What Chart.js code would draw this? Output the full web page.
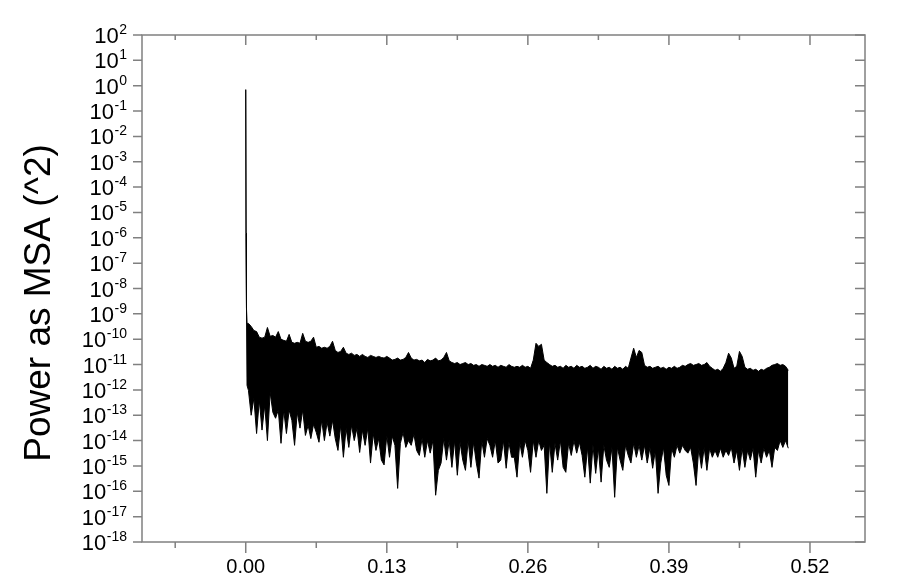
<!DOCTYPE html>
<html>
<head>
<meta charset="utf-8">
<script src="https://cdn.jsdelivr.net/npm/chart.js@4/dist/chart.umd.min.js"></script>
<style>
html,body{margin:0;padding:0;background:#fff;}
canvas{display:block;}
</style>
</head>
<body>
<canvas id="c" width="900" height="581"></canvas>
<script>
// ---- data ----
const freq = [0,0.0003,0.0007,0.0012,
0.0025,0.005,0.0075,0.01,0.0125,0.015,0.0175,0.02,0.0225,0.025,0.0275,0.03,0.0325,0.035,0.0375,0.04,0.0425,0.045,0.0475,0.05,
0.0525,0.055,0.0575,0.06,0.0625,0.065,0.0675,0.07,0.0725,0.075,0.0775,0.08,0.0825,0.085,0.0875,0.09,0.0925,0.095,0.0975,0.1,
0.1025,0.105,0.1075,0.11,0.1125,0.115,0.1175,0.12,0.1225,0.125,0.1275,0.13,0.1325,0.135,0.1375,0.14,0.1425,0.145,0.1475,0.15,
0.1525,0.155,0.1575,0.16,0.1625,0.165,0.1675,0.17,0.1725,0.175,0.1775,0.18,0.1825,0.185,0.1875,0.19,0.1925,0.195,0.1975,0.2,
0.2025,0.205,0.2075,0.21,0.2125,0.215,0.2175,0.22,0.2225,0.225,0.2275,0.23,0.2325,0.235,0.2375,0.24,0.2425,0.245,0.2475,0.25,
0.2525,0.255,0.2575,0.26,0.2625,0.265,0.2675,0.27,0.2725,0.275,0.2775,0.28,0.2825,0.285,0.2875,0.29,0.2925,0.295,0.2975,0.3,
0.3025,0.305,0.3075,0.31,0.3125,0.315,0.3175,0.32,0.3225,0.325,0.3275,0.33,0.3325,0.335,0.3375,0.34,0.3425,0.345,0.3475,0.35,
0.3525,0.355,0.3575,0.36,0.3625,0.365,0.3675,0.37,0.3725,0.375,0.3775,0.38,0.3825,0.385,0.3875,0.39,0.3925,0.395,0.3975,0.4,
0.4025,0.405,0.4075,0.41,0.4125,0.415,0.4175,0.42,0.4225,0.425,0.4275,0.43,0.4325,0.435,0.4375,0.44,0.4425,0.445,0.4475,0.45,
0.4525,0.455,0.4575,0.46,0.4625,0.465,0.4675,0.47,0.4725,0.475,0.4775,0.48,0.4825,0.485,0.4875,0.49,0.4925,0.495,0.4975,0.5];

// upper edge of the power trace
const powerUpper = [0.7,1.5e-6,1.6e-9,4.2e-10,
4.2e-10,3.2e-10,2.2e-10,2.0e-10,1.2e-10,1.1e-10,1.2e-10,2.9e-10,1.3e-10,1.4e-10,1.2e-10,2.0e-10,9.9e-11,9.0e-11,8.3e-11,1.55e-10,7.5e-11,6.9e-11,7.5e-11,6.9e-11,
1.7e-10,8.3e-11,7.5e-11,8.3e-11,1.2e-10,4.8e-11,5.2e-11,4.4e-11,4.8e-11,4.4e-11,5.2e-11,8.3e-11,3.6e-11,3.0e-11,3.3e-11,4.8e-11,2.8e-11,2.5e-11,2.8e-11,2.3e-11,
2.5e-11,2.1e-11,2.5e-11,2.1e-11,1.9e-11,2.3e-11,2.1e-11,1.9e-11,2.1e-11,1.9e-11,1.8e-11,2.1e-11,1.8e-11,1.5e-11,1.6e-11,1.8e-11,1.5e-11,1.6e-11,1.9e-11,3.0e-11,
1.8e-11,1.5e-11,1.6e-11,1.4e-11,1.5e-11,1.2e-11,1.6e-11,1.4e-11,1.5e-11,1.8e-11,1.4e-11,1.5e-11,1.9e-11,3.0e-11,1.4e-11,1.2e-11,1.1e-11,1.2e-11,1.0e-11,1.1e-11,
1.2e-11,1.0e-11,1.1e-11,9.3e-12,1.0e-11,8.5e-12,1.0e-11,9.3e-12,8.5e-12,1.0e-11,8.5e-12,9.3e-12,7.8e-12,9.3e-12,8.5e-12,7.8e-12,1.0e-11,8.5e-12,7.8e-12,8.5e-12,
7.8e-12,9.3e-12,7.8e-12,8.5e-12,7.1e-12,1.5e-11,6.9e-11,5.2e-11,6.3e-11,1.5e-11,1.2e-11,1.0e-11,8.5e-12,9.3e-12,7.8e-12,8.5e-12,7.1e-12,9.3e-12,7.8e-12,8.5e-12,
7.1e-12,9.3e-12,7.8e-12,8.5e-12,7.1e-12,7.8e-12,9.3e-12,7.1e-12,8.5e-12,7.8e-12,6.5e-12,8.5e-12,7.1e-12,7.8e-12,6.5e-12,8.5e-12,7.1e-12,7.8e-12,6.5e-12,8.5e-12,
7.1e-12,1.8e-11,4.4e-11,1.9e-11,3.6e-11,3.0e-11,9.3e-12,7.8e-12,8.5e-12,7.1e-12,7.8e-12,8.5e-12,7.1e-12,7.8e-12,6.5e-12,7.8e-12,7.1e-12,8.5e-12,7.1e-12,7.8e-12,
9.3e-12,8.5e-12,1.0e-11,1.1e-11,9.3e-12,1.0e-11,1.1e-11,9.3e-12,1.0e-11,1.2e-11,8.5e-12,7.1e-12,5.9e-12,6.5e-12,5.4e-12,7.1e-12,1.2e-11,2.8e-11,1.8e-11,7.1e-12,
8.5e-12,3.3e-11,2.1e-11,7.8e-12,6.5e-12,7.1e-12,5.9e-12,6.5e-12,5.4e-12,6.5e-12,5.9e-12,7.1e-12,7.8e-12,9.3e-12,1.0e-11,1.1e-11,9.3e-12,1.0e-11,8.5e-12,5.9e-12];

// lower edge of the power trace (downward spikes)
const powerLower = [0.7,1.5e-6,1.6e-9,1.5e-12,
9.6e-13,1.0e-13,4.7e-13,1.9e-14,3.9e-13,2.6e-14,2.5e-13,1.0e-14,8.0e-13,1.3e-13,7.6e-14,1.6e-13,7.8e-15,1.6e-13,1.9e-14,1.6e-13,6.3e-14,6.5e-15,1.3e-13,3.1e-14,
1.6e-13,1.6e-14,4.0e-14,1.2e-14,4.4e-14,2.1e-14,8.6e-15,6.3e-14,1.0e-14,5.3e-14,1.5e-14,6.3e-14,1.2e-14,4.1e-15,4.0e-14,2.2e-15,3.1e-14,5.4e-15,4.0e-14,1.0e-14,
3.1e-14,3.4e-15,2.6e-14,6.5e-15,3.1e-14,1.3e-15,1.9e-14,4.1e-15,1.2e-14,1.7e-15,1.1e-15,1.6e-14,2.2e-15,1.5e-14,6.5e-15,1.3e-16,7.8e-15,2.1e-14,5.4e-15,1.0e-14,
6.5e-15,1.8e-14,4.1e-15,2.6e-15,1.2e-14,2.2e-15,1.0e-14,3.2e-15,1.0e-14,7.0e-17,6.7e-16,1.3e-15,1.2e-14,1.7e-15,1.0e-14,8.8e-16,1.0e-14,4.3e-16,8.6e-15,1.7e-15,
6.7e-16,1.0e-14,8.8e-16,8.6e-15,1.3e-15,3.3e-16,1.0e-14,2.2e-15,1.2e-14,6.5e-15,2.2e-15,1.0e-14,1.3e-15,1.7e-15,1.0e-14,8.1e-16,8.6e-15,2.2e-15,2.2e-15,3.6e-16,
8.6e-15,2.2e-15,1.0e-14,4.1e-15,5.6e-16,1.0e-14,2.2e-15,1.0e-14,4.1e-15,6.5e-15,8.3e-17,8.6e-15,5.6e-16,7.8e-15,1.7e-15,1.0e-14,8.8e-16,5.6e-16,7.8e-15,2.6e-15,
1.0e-14,3.2e-15,8.6e-15,2.6e-15,3.6e-16,5.4e-15,2.1e-16,6.5e-15,5.1e-16,5.0e-15,2.3e-16,6.5e-15,1.7e-15,8.8e-16,5.4e-15,5.8e-17,5.4e-15,1.7e-15,6.7e-16,6.5e-15,
2.6e-15,1.3e-15,7.8e-15,2.2e-15,6.5e-15,1.7e-15,6.5e-15,1.3e-15,5.4e-15,8.1e-16,4.1e-15,8.3e-17,1.3e-15,5.4e-15,4.3e-16,1.7e-16,5.0e-15,2.2e-15,6.5e-15,3.2e-15,
6.5e-15,4.1e-15,3.2e-15,5.4e-15,1.3e-15,1.7e-16,5.0e-15,8.1e-16,5.4e-15,6.7e-16,5.0e-15,2.2e-15,4.1e-15,2.2e-15,5.0e-15,2.2e-15,4.1e-15,2.6e-15,5.4e-15,1.3e-15,
4.1e-15,6.7e-16,5.0e-15,8.8e-16,4.1e-15,1.7e-15,5.0e-15,3.6e-16,4.1e-15,1.3e-15,5.0e-15,2.2e-15,4.1e-15,8.8e-16,5.4e-15,4.1e-15,1.0e-14,5.4e-15,1.0e-14,5.0e-15];

// ---- ticks ----
const xMajorTicks = [0, 0.13, 0.26, 0.39, 0.52];
const xTickLabels = ['0.00', '0.13', '0.26', '0.39', '0.52'];
const xMinorTicks = [-0.065, 0.065, 0.195, 0.325, 0.455];
const yTickExponents = [-18,-17,-16,-15,-14,-13,-12,-11,-10,-9,-8,-7,-6,-5,-4,-3,-2,-1,0,1,2];
const yTitle = 'Power as MSA (^2)';

const n = Math.min(freq.length, powerUpper.length, powerLower.length);
const upperPts = [], lowerPts = [];
for (let i = 0; i < n; i++) {
  upperPts.push({x: freq[i], y: powerUpper[i]});
  lowerPts.push({x: freq[i], y: powerLower[i]});
}

const FONT = '"Liberation Sans", Arial, Helvetica, sans-serif';
const AXIS = '#808080';

const originAxes = {
  id: 'originAxes',
  afterDraw(chart) {
    const ctx = chart.ctx, a = chart.chartArea;
    const xs = chart.scales.x, ys = chart.scales.y;
    ctx.save();
    ctx.strokeStyle = AXIS;
    ctx.lineWidth = 1.5;
    ctx.strokeRect(a.left, a.top, a.right - a.left, a.bottom - a.top);
    ctx.beginPath();
    yTickExponents.forEach(e => {
      const py = ys.getPixelForValue(Math.pow(10, e));
      ctx.moveTo(a.left - 9, py); ctx.lineTo(a.left, py);
      ctx.moveTo(a.right, py); ctx.lineTo(a.right - 10, py);
    });
    xMajorTicks.forEach(v => {
      const px = xs.getPixelForValue(v);
      ctx.moveTo(px, a.bottom); ctx.lineTo(px, a.bottom + 11);
      ctx.moveTo(px, a.top); ctx.lineTo(px, a.top + 10);
    });
    xMinorTicks.forEach(v => {
      const px = xs.getPixelForValue(v);
      ctx.moveTo(px, a.bottom); ctx.lineTo(px, a.bottom + 6);
      ctx.moveTo(px, a.top); ctx.lineTo(px, a.top + 5);
    });
    ctx.stroke();

    ctx.fillStyle = '#000';
    ctx.font = '20px ' + FONT;
    ctx.textAlign = 'center';
    ctx.textBaseline = 'top';
    xMajorTicks.forEach((v, i) => {
      ctx.fillText(xTickLabels[i], xs.getPixelForValue(v), a.bottom + 15);
    });

    const right = a.left - 15;
    yTickExponents.forEach(e => {
      const py = ys.getPixelForValue(Math.pow(10, e));
      const sup = String(e);
      ctx.textAlign = 'right';
      ctx.textBaseline = 'alphabetic';
      ctx.font = '14px ' + FONT;
      const sw = ctx.measureText(sup).width;
      ctx.fillText(sup, right, py - 1);
      ctx.font = '22px ' + FONT;
      ctx.fillText('10', right - sw - 0.5, py + 8);
    });

    ctx.translate(50, 303);
    ctx.rotate(-Math.PI / 2);
    ctx.font = '37px ' + FONT;
    ctx.textAlign = 'center';
    ctx.textBaseline = 'alphabetic';
    ctx.fillText(yTitle, 0, 0);
    ctx.restore();
  }
};

new Chart(document.getElementById('c'), {
  type: 'line',
  data: {
    datasets: [
      {data: upperPts, borderColor: '#000', borderWidth: 1, pointRadius: 0, fill: false, tension: 0},
      {data: lowerPts, borderColor: '#000', borderWidth: 1, pointRadius: 0, fill: '-1', backgroundColor: '#000', tension: 0}
    ]
  },
  options: {
    responsive: false,
    devicePixelRatio: 1,
    animation: false,
    layout: {padding: {left: 142, top: 35, right: 35, bottom: 39}},
    plugins: {legend: {display: false}, tooltip: {enabled: false}},
    scales: {
      x: {type: 'linear', min: -0.0956, max: 0.5707, display: false},
      y: {type: 'logarithmic', min: 1e-18, max: 1e2, display: false}
    }
  },
  plugins: [originAxes]
});
</script>
</body>
</html>
